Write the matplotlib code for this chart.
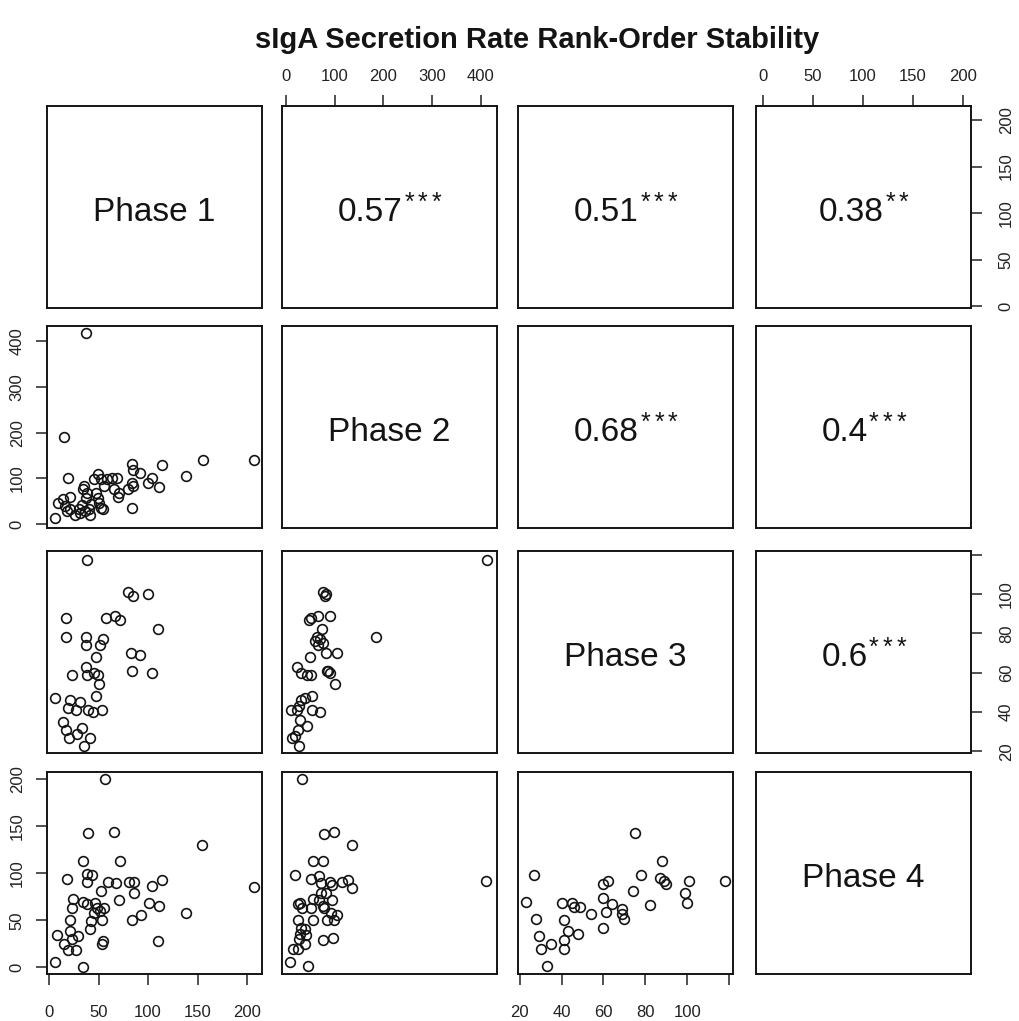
import matplotlib
matplotlib.use('Agg')
import matplotlib.pyplot as plt
import matplotlib.transforms as mtransforms

plt.rcParams['font.family'] = ['Liberation Sans', 'DejaVu Sans']

phases = ['Phase 1', 'Phase 2', 'Phase 3', 'Phase 4']

# upper panels: (row, col) -> correlation and significance stars
corr_cells = [(0, 1), (0, 2), (0, 3), (1, 2), (1, 3), (2, 3)]
corr_vals = ['0.57', '0.51', '0.38', '0.68', '0.4', '0.6']
corr_stars = ['***', '***', '**', '***', '***', '***']

# lower panels
p1_vs_p2_x = [37, 15, 19, 155, 207, 138, 114, 84, 85, 92, 104, 100, 111, 84, 85, 80, 84,
              64, 69, 66, 71, 70, 49, 52, 45, 56, 59, 35, 34, 38, 37, 47, 49, 50, 52, 54,
              9, 6, 14, 21, 16, 18, 21, 26, 30, 31, 36, 41, 40, 33, 42]
p1_vs_p2_y = [417, 190, 101, 141, 141, 106, 130, 132, 118, 111, 101, 90, 81, 90, 83, 77, 35,
              101, 101, 76, 69, 59, 110, 98, 98, 83, 98, 83, 76, 69, 58, 69, 58, 47, 36, 33,
              47, 14, 56, 59, 40, 29, 33, 20, 33, 25, 29, 20, 33, 43, 45]

p1_vs_p3_x = [38, 80, 85, 100, 17, 58, 67, 72, 110, 17, 37, 37, 55, 51, 47, 83, 92, 84, 104,
              37, 38, 45, 49, 23, 50, 47, 6, 21, 31, 19, 27, 39, 44, 53, 14, 17, 33, 28, 20,
              41, 35]
p1_vs_p3_y = [117, 101, 99, 100, 88, 88, 89, 87, 82, 78, 78, 74, 77, 74, 68, 70, 69, 61, 60,
              63, 59, 60, 59, 59, 54, 48, 47, 46, 45, 42, 41, 41, 40, 41, 35, 31, 32, 29, 27,
              27, 23]

p1_vs_p4_x = [57, 39, 66, 154, 34, 72, 18, 38, 43, 38, 60, 68, 81, 86, 104, 114, 207, 86, 52,
              24, 23, 34, 38, 46, 48, 45, 51, 56, 71, 101, 111, 93, 84, 53, 138, 42, 41, 21,
              21, 29, 8, 15, 19, 27, 23, 53, 54, 110, 6, 34]
p1_vs_p4_y = [200, 143, 144, 130, 113, 113, 94, 99, 98, 91, 91, 90, 91, 91, 87, 93, 86, 79, 81,
              73, 63, 70, 67, 69, 63, 58, 60, 63, 72, 69, 65, 56, 51, 51, 58, 49, 41, 51,
              39, 34, 35, 25, 19, 19, 30, 25, 28, 28, 6, 1]

p2_vs_p3_x = [412, 76, 83, 80, 66, 51, 48, 90, 73, 185, 63, 60, 70, 76, 66, 83, 104, 49, 22,
              31, 43, 51, 85, 90, 87, 100, 53, 39, 31, 26, 11, 22, 53, 70, 29, 43, 24, 18,
              12, 26]
p2_vs_p3_y = [117, 101, 100, 99, 89, 88, 87, 89, 82, 78, 78, 76, 77, 75, 74, 70, 70, 68, 63,
              60, 59, 59, 61, 60, 61, 54, 48, 47, 46, 43, 41, 41, 41, 40, 36, 33, 31, 28,
              27, 23]

p2_vs_p4_x = [33, 78, 99, 136, 55, 76, 18, 52, 68, 72, 91, 95, 115, 127, 136, 411, 82, 72, 55,
              68, 95, 29, 25, 33, 52, 75, 78, 92, 105, 85, 99, 56, 25, 30, 38, 28, 41, 38,
              27, 75, 97, 15, 25, 8, 46]
p2_vs_p4_y = [200, 142, 144, 130, 113, 113, 98, 94, 97, 90, 91, 88, 91, 93, 85, 92, 79, 79, 73,
              72, 72, 69, 67, 63, 63, 65, 63, 58, 56, 51, 51, 50, 51, 42, 41, 36, 35, 25,
              30, 29, 31, 20, 20, 6, 2]

p3_vs_p4_x = [75, 88, 27, 78, 87, 89, 90, 101, 118, 60, 62, 74, 99, 100, 23, 40, 45, 46, 49,
              60, 64, 61, 54, 69, 69, 70, 82, 28, 41, 43, 48, 60, 29, 41, 35, 30, 41, 33]
p3_vs_p4_y = [143, 113, 98, 98, 95, 92, 89, 92, 92, 89, 92, 81, 79, 69, 70, 69, 69, 64, 64,
              74, 67, 59, 57, 62, 57, 52, 66, 52, 50, 39, 36, 42, 34, 29, 25, 20, 20, 2]

lower = {
    (1, 0): (p1_vs_p2_x, p1_vs_p2_y),
    (2, 0): (p1_vs_p3_x, p1_vs_p3_y),
    (3, 0): (p1_vs_p4_x, p1_vs_p4_y),
    (2, 1): (p2_vs_p3_x, p2_vs_p3_y),
    (3, 1): (p2_vs_p4_x, p2_vs_p4_y),
    (3, 2): (p3_vs_p4_x, p3_vs_p4_y),
}

phase_ticks = [[0, 50, 100, 150, 200], [0, 100, 200, 300, 400],
               [20, 40, 60, 80, 100, 120], [0, 50, 100, 150, 200]]
phase_ticklabels = [['0', '50', '100', '150', '200'], ['0', '100', '200', '300', '400'],
                    ['20', '40', '60', '80', '100', ''], ['0', '50', '100', '150', '200']]

# axis limits like R: data range widened by 4% on each side
values = {0: [], 1: [], 2: [], 3: []}
for (r, c), (xs, ys) in lower.items():
    values[c] += xs
    values[r] += ys
lims = []
for k in range(4):
    lo, hi = min(values[k]), max(values[k])
    pad = 0.04 * (hi - lo)
    lims.append((lo - pad, hi + pad))

W, H = 1019, 1021
fig = plt.figure(figsize=(W / 100, H / 100), dpi=100)

col_left = [47, 282, 518, 756]
row_top = [106, 326, 551, 772]
pw, ph = 215, 202

ink = '#141414'
tick_kw = dict(direction='out', length=8, width=1.1, labelsize=12, colors='#222222')
star_pitch = 10  # points between stars
text_y = 0.475

for i in range(4):
    for j in range(4):
        ax = fig.add_axes([col_left[j] / W, 1 - (row_top[i] + ph) / H, pw / W, ph / H])
        for s in ax.spines.values():
            s.set_linewidth(1.4)
            s.set_color(ink)
        ax.set_xlim(lims[j])
        ax.set_ylim(lims[i])
        ax.set_xticks([])
        ax.set_yticks([])

        if i == j:
            ax.text(0.5, text_y, phases[i], transform=ax.transAxes, ha='center', va='center',
                    fontsize=24, color=ink)
        elif i > j:
            xs, ys = lower[(i, j)]
            ax.plot(xs, ys, linestyle='none', marker='o', markersize=7,
                    markerfacecolor='none', markeredgecolor=ink, markeredgewidth=1.2)
        else:
            k = corr_cells.index((i, j))
            stars = corr_stars[k]
            shift = -((len(stars) - 1) * star_pitch + 7.5) / 2
            tr = mtransforms.offset_copy(ax.transAxes, fig=fig, x=shift, y=0, units='points')
            t = ax.text(0.5, text_y, corr_vals[k], transform=tr, ha='center', va='center',
                        fontsize=24, color=ink)
            for n in range(len(stars)):
                ax.annotate('*', xy=(1.0, 1.0), xycoords=t,
                            xytext=(1 + n * star_pitch, 4), textcoords='offset points',
                            ha='left', va='top', fontsize=18, color=ink)

        # outer axes alternate sides like R's pairs()
        if i == 0 and j % 2 == 1:
            ax.xaxis.tick_top()
            ax.set_xticks(phase_ticks[j], phase_ticklabels[j])
            ax.tick_params(axis='x', pad=8, **tick_kw)
        if i == 3 and j % 2 == 0:
            ax.set_xticks(phase_ticks[j], phase_ticklabels[j])
            ax.tick_params(axis='x', pad=14, **tick_kw)
        if j == 0 and i % 2 == 1:
            ax.set_yticks(phase_ticks[i], phase_ticklabels[i])
            ax.tick_params(axis='y', pad=8, **tick_kw)
            plt.setp(ax.get_yticklabels(), rotation=90, va='center')
        if j == 3 and i % 2 == 0:
            ax.yaxis.tick_right()
            ax.set_yticks(phase_ticks[i], phase_ticklabels[i])
            ax.tick_params(axis='y', pad=12, **tick_kw)
            plt.setp(ax.get_yticklabels(), rotation=90, va='center')

fig.text(537 / W, 1 - 40 / H, 'sIgA Secretion Rate Rank-Order Stability',
         ha='center', va='center', fontsize=21, fontweight='bold', color=ink)

fig.savefig('out.png', dpi=100)
